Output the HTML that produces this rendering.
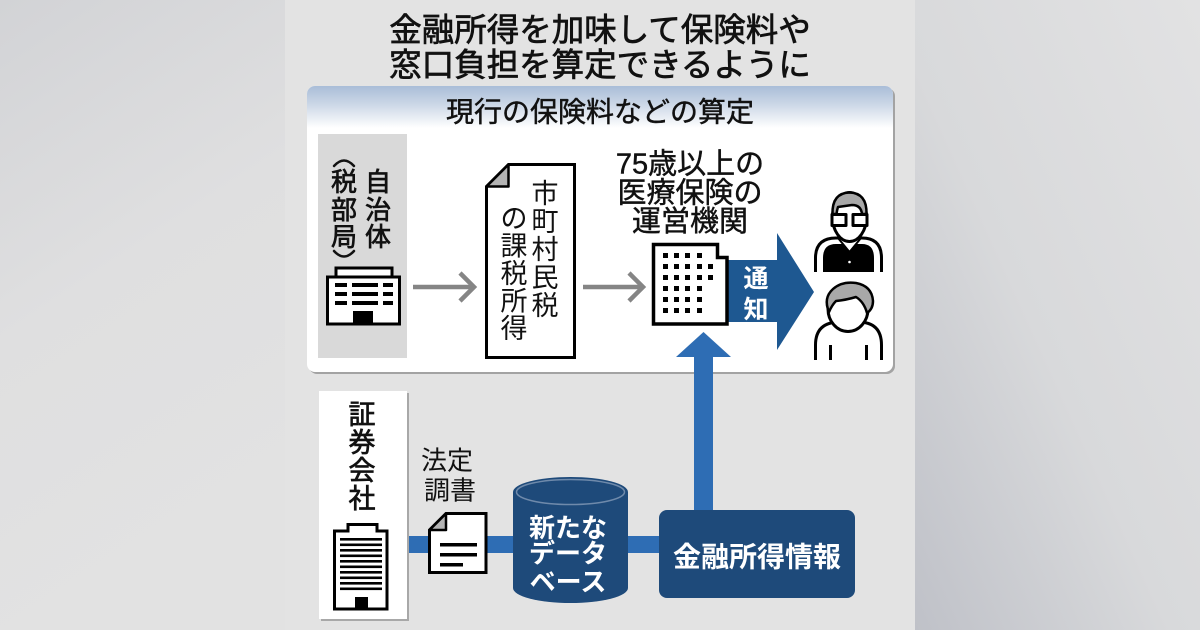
<!DOCTYPE html>
<html><head><meta charset="utf-8">
<style>
html,body{margin:0;padding:0;}
body{width:1200px;height:630px;overflow:hidden;background:#dcdcdd;}
svg{display:block;}
text{font-family:"Liberation Sans","Noto Sans CJK JP",sans-serif;}
.med{stroke:#111;stroke-width:0.7px;paint-order:stroke;}
.med2{stroke:#111;stroke-width:0.45px;paint-order:stroke;}
</style></head><body>
<svg width="1200" height="630" viewBox="0 0 1200 630" xmlns="http://www.w3.org/2000/svg">
<defs>
 <linearGradient id="bgL" x1="0" y1="0" x2="0.3" y2="1">
  <stop offset="0" stop-color="#d2d3d6"/>
  <stop offset="0.5" stop-color="#dfdfe0"/>
  <stop offset="1" stop-color="#e2e2e2"/>
 </linearGradient>
 <linearGradient id="bgR" x1="1" y1="0" x2="0" y2="1">
  <stop offset="0" stop-color="#e2e2e3"/>
  <stop offset="0.55" stop-color="#d8d9db"/>
  <stop offset="1" stop-color="#bfc1c8"/>
 </linearGradient>
 <linearGradient id="hdr" x1="0" y1="0" x2="0" y2="1">
  <stop offset="0" stop-color="#a9bdd8"/>
  <stop offset="0.45" stop-color="#cdd8e7"/>
  <stop offset="1" stop-color="#ffffff"/>
 </linearGradient>
 <clipPath id="boxclip"><rect x="307" y="86" width="586" height="286" rx="8"/></clipPath>
</defs>

<!-- backgrounds -->
<rect x="0" y="0" width="285" height="630" fill="url(#bgL)"/>
<rect x="915" y="0" width="285" height="630" fill="url(#bgR)"/>
<rect x="285" y="0" width="630" height="630" fill="#e3e3e3"/>

<!-- title -->
<text class="med" x="600" y="41" font-size="32.5" text-anchor="middle" fill="#111">金融所得を加味して保険料や</text>
<text class="med" x="600" y="76" font-size="32.5" text-anchor="middle" fill="#111">窓口負担を算定できるように</text>

<!-- white box -->
<rect x="309" y="88" width="586" height="286" rx="8" fill="#a3a3a3"/>
<rect x="307" y="86" width="586" height="286" rx="8" fill="#ffffff"/>
<rect x="307" y="86" width="586" height="42" fill="url(#hdr)" clip-path="url(#boxclip)"/>
<text class="med2" x="600" y="121.5" font-size="28" text-anchor="middle" fill="#111">現行の保険料などの算定</text>

<!-- 自治体 gray box -->
<rect x="318" y="134" width="89" height="224" fill="#d9d9d9"/>
<g class="med" font-size="26" fill="#111" text-anchor="middle">
 <text x="378" y="191">自</text>
 <text x="378" y="219">治</text>
 <text x="378" y="246">体</text>
 <text x="344" y="191">税</text>
 <text x="344" y="219">部</text>
 <text x="344" y="246">局</text>
</g>
<g fill="none" stroke="#111" stroke-width="2.5" stroke-linecap="round">
 <path d="M334 166 Q344 155 354 166"/>
 <path d="M334 251 Q344 262 354 251"/>
</g>
<!-- building 1 -->
<g stroke="#000" stroke-width="3" fill="#fff">
 <rect x="336" y="268" width="56" height="9"/>
 <rect x="327.5" y="277" width="72" height="47"/>
</g>
<g fill="#000">
 <rect x="335" y="283" width="12" height="4"/><rect x="352" y="283" width="26" height="4"/><rect x="383" y="283" width="10" height="4"/>
 <rect x="335" y="292" width="12" height="4"/><rect x="352" y="292" width="26" height="4"/><rect x="383" y="292" width="10" height="4"/>
 <rect x="335" y="301" width="12" height="4"/><rect x="352" y="301" width="26" height="4"/><rect x="383" y="301" width="10" height="4"/>
 <rect x="353" y="311" width="20" height="13"/>
</g>

<!-- gray arrows -->
<g stroke="#858585" stroke-width="4.5" fill="none" stroke-linecap="butt">
 <line x1="413" y1="287" x2="473" y2="287"/>
 <polyline points="460,273 474,287 460,301"/>
 <line x1="583" y1="287" x2="643" y2="287"/>
 <polyline points="629,273 643,287 629,301"/>
</g>

<!-- document 1 -->
<path d="M508.5 164.5 L574.5 164.5 L574.5 357.5 L486.5 357.5 L486.5 186.5 Z" fill="#fff" stroke="#000" stroke-width="3" stroke-linejoin="miter"/>
<path d="M486.5 186.5 L508.5 164.5 L508.5 186.5 Z" fill="#b3b3b3" stroke="#000" stroke-width="2.5" stroke-linejoin="round"/>
<g font-size="27" fill="#111" text-anchor="middle">
 <text x="545" y="203">市</text>
 <text x="545" y="231">町</text>
 <text x="545" y="259">村</text>
 <text x="545" y="287">民</text>
 <text x="545" y="315">税</text>
 <text x="514" y="228">の</text>
 <text x="514" y="255.5">課</text>
 <text x="514" y="283">税</text>
 <text x="514" y="310.5">所</text>
 <text x="514" y="338">得</text>
</g>

<!-- 75歳以上 label -->
<g class="med2" font-size="29" fill="#111" text-anchor="middle">
 <text x="690" y="173.5">75歳以上の</text>
 <text x="690" y="202.5">医療保険の</text>
 <text x="690" y="231">運営機関</text>
</g>

<!-- up arrow -->
<rect x="694" y="355" width="19" height="157" fill="#2e6db4"/>
<polygon points="676,357 703.5,332 731,357" fill="#2e6db4"/>

<!-- 通知 arrow -->
<polygon points="726,260 777,260 777,233 814,292 777,350 777,322 726,322" fill="#1e5891"/>
<g font-size="25" font-weight="bold" fill="#fff" text-anchor="middle">
 <text x="756" y="287">通</text>
 <text x="756" y="318">知</text>
</g>

<!-- building 2 -->
<path d="M653.5 244.5 L717.5 244.5 L717.5 257.5 L727 257.5 L727 324 L653.5 324 Z" fill="#fff" stroke="#000" stroke-width="3.5"/>
<g fill="#000">
 <rect x="663" y="253" width="5" height="5"/><rect x="674" y="253" width="5" height="5"/><rect x="685" y="253" width="5" height="5"/><rect x="697" y="253" width="5" height="5"/>
 <rect x="663" y="264" width="5" height="5"/><rect x="674" y="264" width="5" height="5"/><rect x="685" y="264" width="5" height="5"/><rect x="697" y="264" width="5" height="5"/><rect x="708" y="264" width="5" height="5"/>
 <rect x="663" y="275" width="5" height="5"/><rect x="674" y="275" width="5" height="5"/><rect x="685" y="275" width="5" height="5"/><rect x="697" y="275" width="5" height="5"/><rect x="708" y="275" width="5" height="5"/>
 <rect x="663" y="286" width="5" height="5"/><rect x="674" y="286" width="5" height="5"/><rect x="685" y="286" width="5" height="5"/><rect x="697" y="286" width="5" height="5"/>
 <rect x="663" y="297" width="5" height="5"/><rect x="674" y="297" width="5" height="5"/><rect x="685" y="297" width="5" height="5"/><rect x="697" y="297" width="5" height="5"/>
 <rect x="663" y="308" width="5" height="5"/><rect x="674" y="308" width="5" height="5"/><rect x="685" y="308" width="5" height="5"/><rect x="697" y="308" width="5" height="5"/>
</g>

<!-- person 1 (glasses, vest) -->
<g stroke="#000" stroke-width="3" stroke-linejoin="round">
 <path d="M815.5 272 L815.5 258 Q815.5 238 836 238 L862 238 Q881.5 238 881.5 258 L881.5 272" fill="#fff"/>
 <path d="M823 272 L823 258 Q823 244 836 244 L862 244 Q874 244 874 258 L874 272 Z" fill="#000" stroke="none"/>
 <path d="M838 238 L849.5 252 L861 238 Z" fill="#fff" stroke="#000" stroke-width="2"/>
 <ellipse cx="849.5" cy="217" rx="17" ry="24.5" fill="#fff"/>
 <path d="M832.5 214 Q832 193 849.5 192.5 Q867 193 866.5 214 L862 214 Q861 205 852 205 L838 207 Q837 210 836.5 214 Z" fill="#a8a8a8" stroke-width="2.5"/>
 <rect x="832" y="214.5" width="14" height="11" fill="#fff" stroke-width="3"/>
 <rect x="853" y="214.5" width="14" height="11" fill="#fff" stroke-width="3"/>
</g>
<circle cx="849.5" cy="262" r="1.3" fill="#fff"/>

<!-- person 2 -->
<g stroke="#000" stroke-width="3" stroke-linejoin="round">
 <path d="M815.5 360 L815.5 345 Q815.5 322 840 322 L858 322 Q881.5 322 881.5 345 L881.5 360" fill="#fff"/>
 <ellipse cx="848" cy="309" rx="20" ry="22.5" fill="#fff"/>
 <path d="M829 312 Q823 298 833 289 Q842 281 856 283 Q872 286 873 301 Q873 309 867 313 Q864 302 856 297 Q846 300 836 301 Q832 305 829 312 Z" fill="#a8a8a8" stroke-width="2.5"/>
 <line x1="830.5" y1="345" x2="830.5" y2="360"/>
 <line x1="866.5" y1="345" x2="866.5" y2="360"/>
</g>

<!-- lower section: blue horizontal bar -->
<rect x="405" y="536" width="256" height="17" fill="#2e6db4"/>

<!-- 証券会社 box -->
<rect x="321" y="393" width="88" height="228" fill="#a8a8a8"/>
<rect x="319" y="391" width="88" height="228" fill="#ffffff"/>
<g class="med" font-size="27" fill="#111" text-anchor="middle">
 <text x="362" y="424">証</text>
 <text x="362" y="452">券</text>
 <text x="362" y="480">会</text>
 <text x="362" y="508">社</text>
</g>
<!-- building 3 -->
<path d="M348 524.5 L377 524.5 L377 531 L387 531 L387 609 L334.5 609 L334.5 531 L348 531 Z" fill="#fff" stroke="#000" stroke-width="3"/>
<g fill="#000">
 <rect x="340" y="538" width="42" height="2.6"/>
 <rect x="340" y="543.5" width="42" height="2.6"/>
 <rect x="340" y="549" width="42" height="2.6"/>
 <rect x="340" y="554.5" width="42" height="2.6"/>
 <rect x="340" y="560" width="42" height="2.6"/>
 <rect x="340" y="565.5" width="42" height="2.6"/>
 <rect x="340" y="571" width="42" height="2.6"/>
 <rect x="340" y="576.5" width="42" height="2.6"/>
 <rect x="340" y="582" width="42" height="2.6"/>
 <rect x="340" y="587.5" width="42" height="2.6"/>
 <rect x="355" y="597" width="13" height="12"/>
</g>

<!-- 法定調書 -->
<g font-size="26" fill="#111" text-anchor="middle">
 <text x="447" y="469.5">法定</text>
 <text x="450" y="499.5">調書</text>
</g>
<!-- doc 2 -->
<path d="M446 513.5 L486 513.5 L486 572.5 L429.5 572.5 L429.5 530 Z" fill="#fff" stroke="#000" stroke-width="3"/>
<path d="M429.5 530 L446 513.5 L446 530 Z" fill="#b3b3b3" stroke="#000" stroke-width="2.5" stroke-linejoin="round"/>
<g fill="#000">
 <rect x="440" y="543" width="37" height="3.5"/>
 <rect x="440" y="553" width="37" height="3.5"/>
 <rect x="440" y="563" width="23" height="3.5"/>
</g>

<!-- database cylinder -->
<path d="M513 492 L513 588 A57.5 15 0 0 0 628 588 L628 492 Z" fill="#1e4a7a"/>
<ellipse cx="570.5" cy="492" rx="57.5" ry="15" fill="#1e4a7a"/>
<ellipse cx="570.5" cy="492" rx="54" ry="12.5" fill="none" stroke="#6f8aab" stroke-width="1.5"/>
<g font-size="26" font-weight="bold" fill="#fff" text-anchor="middle">
 <text x="568" y="537">新たな</text>
 <text x="568" y="562.5">データ</text>
 <text x="568" y="591">ベース</text>
</g>

<!-- 金融所得情報 box -->
<rect x="659" y="510" width="196" height="88" rx="8" fill="#1e4a7a"/>
<text x="757" y="566.5" font-size="28" font-weight="bold" fill="#fff" text-anchor="middle">金融所得情報</text>
</svg>
</body></html>
